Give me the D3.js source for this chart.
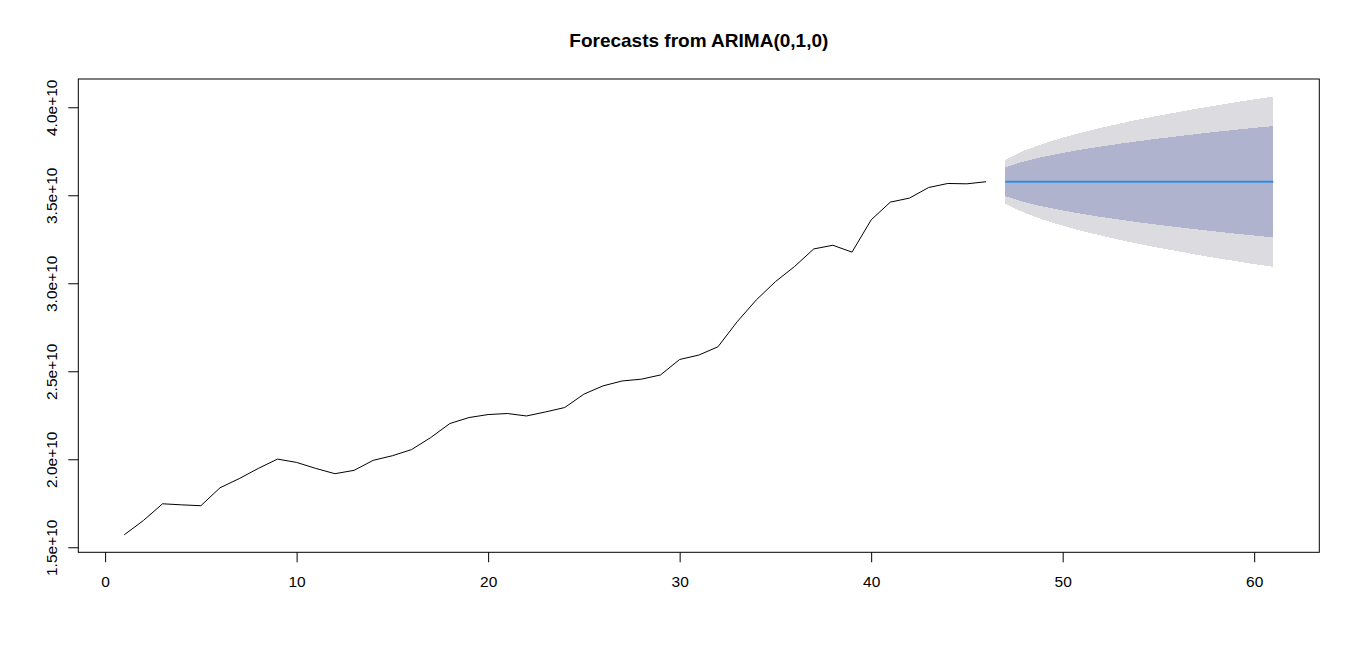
<!DOCTYPE html>
<html>
<head>
<meta charset="utf-8">
<script src="https://cdn.jsdelivr.net/npm/d3@7"></script>
<style>
  html, body { margin: 0; background: #fff; }
  svg { display: block; font-family: Arial, "Liberation Sans", sans-serif; }
</style>
</head>
<body>
<div id="chart"></div>
<script>
///// 1.  DATOS (unidades de 1e10)
const E10 = 1e10;

// serie observada, t = 1..46
const histValues = [
  1.571, 1.652, 1.747, 1.741, 1.736, 1.838, 1.890, 1.948, 2.001, 1.982,
  1.948, 1.918, 1.937, 1.994, 2.020, 2.055, 2.123, 2.203, 2.237, 2.254,
  2.260, 2.246, 2.269, 2.294, 2.370, 2.417, 2.445, 2.455, 2.479, 2.567,
  2.592, 2.639, 2.781, 2.905, 3.009, 3.095, 3.195, 3.216, 3.177, 3.360,
  3.461, 3.484, 3.544, 3.567, 3.565, 3.577
];

// horizonte de pronóstico
const fcSteps  = [47, 48, 49, 50, 51, 52, 53, 54, 55, 56, 57, 58, 59, 60, 61];
const fcMean   = [3.577, 3.577, 3.577, 3.577, 3.577, 3.577, 3.577, 3.577, 3.577, 3.577, 3.577, 3.577, 3.577, 3.577, 3.577];
const fcLo80   = [3.495, 3.461, 3.435, 3.414, 3.394, 3.377, 3.361, 3.346, 3.332, 3.319, 3.306, 3.294, 3.282, 3.271, 3.261];
const fcHi80   = [3.659, 3.693, 3.719, 3.740, 3.760, 3.777, 3.793, 3.808, 3.822, 3.835, 3.848, 3.860, 3.872, 3.883, 3.893];
const fcLo95   = [3.452, 3.400, 3.360, 3.327, 3.297, 3.271, 3.246, 3.223, 3.202, 3.182, 3.162, 3.144, 3.126, 3.109, 3.093];
const fcHi95   = [3.702, 3.754, 3.794, 3.827, 3.857, 3.883, 3.908, 3.931, 3.952, 3.972, 3.992, 4.010, 4.028, 4.045, 4.061];

const xTicks      = [0, 10, 20, 30, 40, 50, 60];
const yTicks      = [1.5, 2.0, 2.5, 3.0, 3.5, 4.0];
const yTickLabels = ['1.5e+10', '2.0e+10', '2.5e+10', '3.0e+10', '3.5e+10', '4.0e+10'];

const TITLE = 'Forecasts from ARIMA(0,1,0)';

///// 2.  LIENZO
const W = 1360, H = 650;
const box = { left: 78.3, right: 1319.3, top: 79, bottom: 552.3 };
const TICK_FONT = '15.5px';

const svg = d3.select('#chart').append('svg')
              .attr('width', W).attr('height', H)
              .attr('viewBox', [0, 0, W, H]);

///// 3.  ESCALAS (R extiende un 4% el rango de los datos)
const pad4 = ([a, b]) => [a - (b - a) * 0.04, b + (b - a) * 0.04];

const x = d3.scaleLinear()
            .domain(pad4([1, d3.max(fcSteps)]))
            .range([box.left, box.right]);

const y = d3.scaleLinear()
            .domain(pad4([d3.min([...histValues, ...fcLo95]) * E10,
                          d3.max([...histValues, ...fcHi95]) * E10]))
            .range([box.bottom, box.top]);

///// 4.  BANDAS DE PRONÓSTICO
const fc = fcSteps.map((t, i) => ({
  t, mean: fcMean[i] * E10,
  lo80: fcLo80[i] * E10, hi80: fcHi80[i] * E10,
  lo95: fcLo95[i] * E10, hi95: fcHi95[i] * E10
}));

const band = (lo, hi) => d3.area()
  .x(d => x(d.t))
  .y0(d => y(d[lo]))
  .y1(d => y(d[hi]));

svg.append('path')
   .datum(fc)
   .attr('d', band('lo95', 'hi95'))
   .attr('fill', '#dbdbe0')
   .attr('shape-rendering', 'crispEdges');

svg.append('path')
   .datum(fc)
   .attr('d', band('lo80', 'hi80'))
   .attr('fill', '#b0b3ce')
   .attr('shape-rendering', 'crispEdges');

///// 5.  LÍNEAS
svg.append('path')
   .datum(histValues)
   .attr('d', d3.line()
                .x((d, i) => x(i + 1))
                .y(d => y(d * E10)))
   .attr('fill', 'none')
   .attr('stroke', '#000')
   .attr('stroke-width', 1);

svg.append('path')
   .datum(fc)
   .attr('d', d3.line().x(d => x(d.t)).y(d => y(d.mean)))
   .attr('fill', 'none')
   .attr('stroke', '#2f8fdd')
   .attr('stroke-width', 2);

///// 6.  EJES
const xAxis = d3.axisBottom(x)
                .tickValues(xTicks)
                .tickSize(10)
                .tickPadding(14)
                .tickFormat(d3.format('d'));

svg.append('g')
   .attr('transform', `translate(0,${box.bottom})`)
   .call(xAxis)
   .call(g => g.select('.domain').remove())
   .call(g => g.selectAll('line').attr('stroke', '#000'))
   .call(g => g.selectAll('text')
               .attr('fill', '#000')
               .attr('font-size', TICK_FONT)
               .attr('font-family', 'Arial, "Liberation Sans", sans-serif'));

const yAxis = d3.axisLeft(y)
                .tickValues(yTicks.map(v => v * E10))
                .tickSize(10)
                .tickFormat((d, i) => yTickLabels[i]);

const gy = svg.append('g')
   .attr('transform', `translate(${box.left},0)`)
   .call(yAxis)
   .call(g => g.select('.domain').remove())
   .call(g => g.selectAll('line').attr('stroke', '#000'));

// etiquetas verticales, como en R (las=0)
gy.selectAll('text')
  .attr('fill', '#000')
  .attr('font-size', TICK_FONT)
  .attr('font-family', 'Arial, "Liberation Sans", sans-serif')
  .attr('text-anchor', 'middle')
  .attr('x', null).attr('dy', null)
  .attr('transform', 'translate(-21.5,0) rotate(-90)');

// marco
svg.append('rect')
   .attr('x', box.left).attr('y', box.top)
   .attr('width', box.right - box.left)
   .attr('height', box.bottom - box.top)
   .attr('fill', 'none')
   .attr('stroke', '#000')
   .attr('stroke-width', 1);

///// 7.  TÍTULO
svg.append('text')
   .attr('x', (box.left + box.right) / 2)
   .attr('y', 47)
   .attr('text-anchor', 'middle')
   .attr('font-size', '19px')
   .attr('font-weight', 'bold')
   .attr('fill', '#000')
   .text(TITLE);
</script>
</body>
</html>
